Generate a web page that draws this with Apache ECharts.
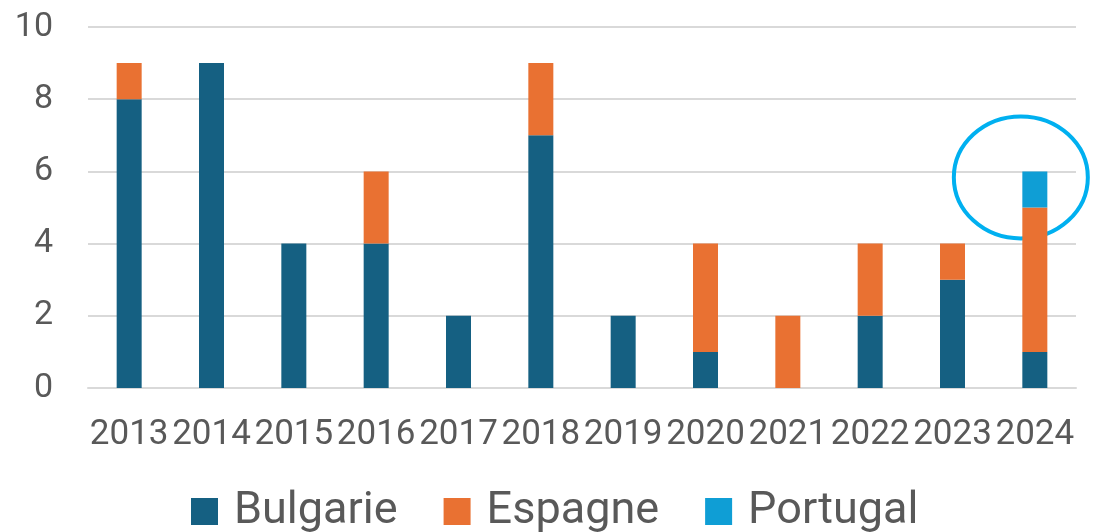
<!DOCTYPE html>
<html>
<head>
<meta charset="utf-8">
<script src="https://cdn.jsdelivr.net/npm/echarts@6/dist/echarts.min.js"></script>
<style>
  html, body { margin: 0; padding: 0; background: #fff; }
  #chart { width: 1094px; height: 532px; }
</style>
</head>
<body>
<div id="chart"></div>
<script>
var years = ['2013', '2014', '2015', '2016', '2017', '2018', '2019', '2020', '2021', '2022', '2023', '2024'];
var bulgarie = [8, 9, 4, 4, 2, 7, 2, 1, 0, 2, 3, 1];
var espagne = [1, 0, 0, 2, 0, 2, 0, 3, 2, 2, 1, 4];
var portugal = [0, 0, 0, 0, 0, 0, 0, 0, 0, 0, 0, 1];
var yTicks = [0, 2, 4, 6, 8, 10];

var chart = echarts.init(document.getElementById('chart'));

function bar(name, data, color) {
  return {
    name: name,
    type: 'bar',
    stack: 'total',
    barWidth: 25,
    itemStyle: { color: color },
    data: data.map(function (v) { return v === 0 ? null : v; })
  };
}

chart.setOption({
  animation: false,
  textStyle: { fontFamily: 'Roboto' },
  grid: { left: 88, right: 18, top: 27, bottom: 144 },
  legend: {
    top: 484,
    left: 186,
    itemWidth: 27,
    itemHeight: 27,
    itemGap: 46,
    icon: 'rect',
    textStyle: { color: '#595959', fontSize: 45, fontFamily: 'Roboto', padding: [0, 0, 0, 11] },
    data: ['Bulgarie', 'Espagne', 'Portugal']
  },
  xAxis: {
    type: 'category',
    data: years,
    axisLine: { lineStyle: { color: '#d9d9d9', width: 2 } },
    axisTick: { show: false },
    axisLabel: { color: '#595959', fontSize: 35, margin: 30, interval: 0 }
  },
  yAxis: {
    type: 'value',
    min: yTicks[0],
    max: yTicks[yTicks.length - 1],
    interval: 2,
    axisLine: { show: false },
    axisTick: { show: false },
    splitLine: { lineStyle: { color: '#d9d9d9', width: 2 } },
    axisLabel: { color: '#595959', fontSize: 34, margin: 35 }
  },
  series: [
    bar('Bulgarie', bulgarie, '#156082'),
    bar('Espagne', espagne, '#E97132'),
    bar('Portugal', portugal, '#0F9ED5')
  ]
});

// highlight circle round the last year's stack
var last = years.length - 1;
var total = bulgarie[last] + espagne[last] + portugal[last];
var p = chart.convertToPixel({ gridIndex: 0 }, [years[last], total]);
chart.setOption({
  graphic: [{
    type: 'ellipse',
    shape: { cx: p[0] - 14, cy: p[1] + 6, rx: 67, ry: 61 },
    style: { fill: 'none', stroke: '#00B0F0', lineWidth: 4 }
  }]
});
</script>
</body>
</html>
